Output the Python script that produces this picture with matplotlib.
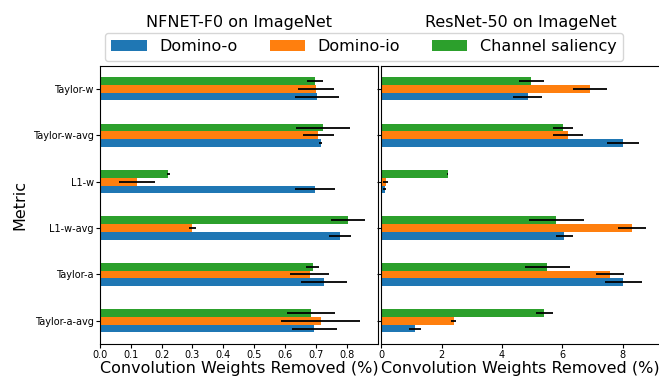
import matplotlib
matplotlib.use("Agg")
import matplotlib.pyplot as plt
import numpy as np

metrics = ["Taylor-w", "Taylor-w-avg", "L1-w", "L1-w-avg", "Taylor-a", "Taylor-a-avg"]
methods = ["Domino-o", "Domino-io", "Channel saliency"]
colors = ["#1f77b4", "#ff7f0e", "#2ca02c"]

# NFNET-F0 on ImageNet
nfnet_o = [0.705, 0.717, 0.698, 0.779, 0.727, 0.695]
nfnet_io = [0.702, 0.708, 0.119, 0.300, 0.681, 0.716]
nfnet_cs = [0.698, 0.724, 0.222, 0.805, 0.690, 0.685]
nfnet_o_err = [0.072, 0.005, 0.066, 0.036, 0.075, 0.073]
nfnet_io_err = [0.058, 0.050, 0.058, 0.011, 0.063, 0.128]
nfnet_cs_err = [0.027, 0.087, 0.005, 0.055, 0.020, 0.079]

# ResNet-50 on ImageNet
resnet_o = [4.85, 8.02, 0.12, 6.07, 8.03, 1.11]
resnet_io = [6.93, 6.20, 0.15, 8.32, 7.59, 2.40]
resnet_cs = [4.98, 6.04, 2.20, 5.81, 5.51, 5.41]
resnet_o_err = [0.49, 0.53, 0.05, 0.28, 0.62, 0.20]
resnet_io_err = [0.56, 0.49, 0.08, 0.47, 0.47, 0.08]
resnet_cs_err = [0.42, 0.33, 0.02, 0.90, 0.75, 0.27]

fig = plt.figure(figsize=(6.59, 3.81), dpi=100)
ax1 = fig.add_axes([0.1517, 0.0971, 0.4223, 0.7305])
ax2 = fig.add_axes([0.5786, 0.0971, 0.4223, 0.7305], sharey=ax1)

y = np.arange(len(metrics))
h = 0.5 / 3
offsets = [h, 0, -h]


def draw(ax, vals, errs, title):
    bars = []
    for v, e, c, off in zip(vals, errs, colors, offsets):
        b = ax.barh(y + off, v, height=h, color=c, xerr=e,
                    error_kw=dict(ecolor="black", lw=1.3, capsize=0))
        bars.append(b)
    ax.set_title(title, fontsize=11.5, pad=28)
    ax.set_xlabel("Convolution Weights Removed (%)", fontsize=11.5, labelpad=0.5)
    ax.tick_params(labelsize=7, length=3, pad=1.5)
    return bars


bars = draw(ax1, [nfnet_o, nfnet_io, nfnet_cs],
            [nfnet_o_err, nfnet_io_err, nfnet_cs_err], "NFNET-F0 on ImageNet")
draw(ax2, [resnet_o, resnet_io, resnet_cs],
     [resnet_o_err, resnet_io_err, resnet_cs_err], "ResNet-50 on ImageNet")

ax1.set_yticks(y)
ax1.set_yticklabels(metrics)
ax1.set_ylim(5.5, -0.5)
ax1.set_ylabel("Metric", fontsize=11.5)
ax1.set_xticks(np.arange(0, 0.85, 0.1))
ax2.tick_params(labelleft=False)
ax2.set_xticks([0, 2, 4, 6, 8])

fig.legend(bars, methods, loc="upper center", ncol=3, fontsize=11.5,
           bbox_to_anchor=(364 / 659, 1 - 33 / 381), borderaxespad=0,
           handlelength=2.2)

fig.savefig("out.png", dpi=100)
